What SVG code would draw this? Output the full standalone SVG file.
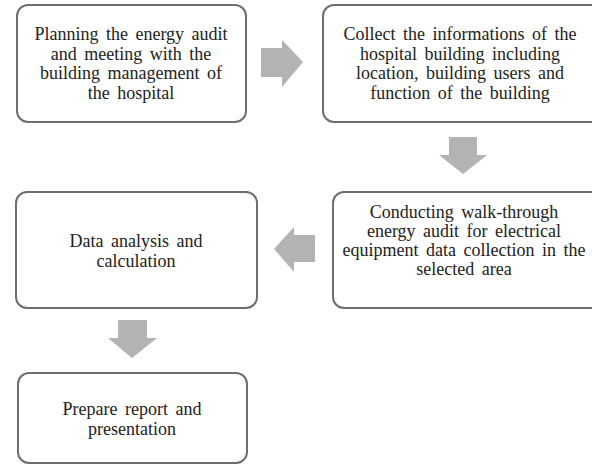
<svg xmlns="http://www.w3.org/2000/svg" width="592" height="465" viewBox="0 0 592 465">
<style>
.box{fill:#fff;stroke:#6e6e6e;stroke-width:2}
.t{font-family:'Liberation Serif','Times New Roman',serif;font-size:18px;fill:#222;text-anchor:middle;word-spacing:3px}
.arr{fill:#b3b3b3}
</style>
<rect width="592" height="465" fill="#fff"/>
<g id="connectors">
<polygon class="arr" points="261,48 282,48 282,40 303,62 282,87 282,77 261,77"/>
<polygon class="arr" points="449,137 477,137 477,155 487,155 463,174 439,155 449,155"/>
<polygon class="arr" points="315,235 294,235 294,227 274,249 294,272 294,262 315,262"/>
<polygon class="arr" points="118,320 147,320 147,338 157,338 132,358 108,338 118,338"/>
</g>
<g id="node1">
<rect class="box" x="17" y="5" width="229" height="117" rx="11"/>
<text class="t" x="131" y="40">Planning the energy audit</text>
<text class="t" x="131" y="59.5">and meeting with the</text>
<text class="t" x="131" y="79">building management of</text>
<text class="t" x="131" y="98.5">the hospital</text>
</g>
<g id="node2">
<rect class="box" x="323" y="5" width="290" height="117" rx="11"/>
<text class="t" x="460" y="40">Collect the informations of the</text>
<text class="t" x="460" y="59.5">hospital building including</text>
<text class="t" x="460" y="79">location, building users and</text>
<text class="t" x="460" y="98.5">function of the building</text>
</g>
<g id="node3">
<rect class="box" x="333" y="192" width="280" height="116" rx="11"/>
<text class="t" x="464" y="218">Conducting walk-through</text>
<text class="t" x="464" y="237">energy audit for electrical</text>
<text class="t" x="464" y="256">equipment data collection in the</text>
<text class="t" x="464" y="275">selected area</text>
</g>
<g id="node4">
<rect class="box" x="16" y="192" width="241" height="116" rx="11"/>
<text class="t" x="136" y="247">Data analysis and</text>
<text class="t" x="136" y="267">calculation</text>
</g>
<g id="node5">
<rect class="box" x="18" y="373" width="229" height="90" rx="11"/>
<text class="t" x="132" y="415">Prepare report and</text>
<text class="t" x="132" y="435">presentation</text>
</g>
</svg>
